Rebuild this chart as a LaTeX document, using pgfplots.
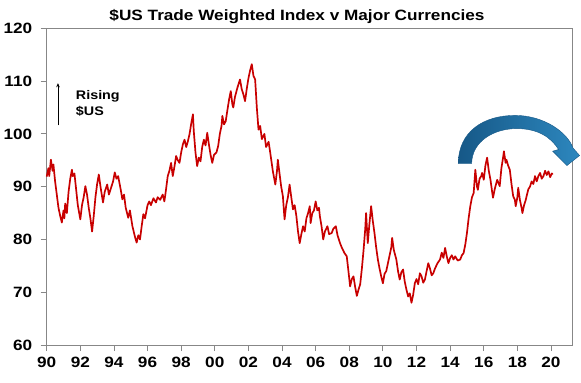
\documentclass[border=0pt]{standalone}
\usepackage{pgfplots}
\pgfplotsset{compat=1.18}
\usepackage{fontspec}
\setmainfont{Liberation Sans}[FakeStretch=1.15, BoldFont={Liberation Sans Bold}, BoldFeatures={FakeStretch=1.15}]
\usetikzlibrary{arrows.meta}
\definecolor{linered}{RGB}{200,0,0}
\definecolor{axgray}{RGB}{135,135,135}
\definecolor{arrdark}{RGB}{22,88,135}
\definecolor{arrlight}{RGB}{45,135,190}
\begin{document}
\begin{tikzpicture}
\useasboundingbox (0,0) rectangle (581bp,383bp);
\begin{axis}[
  at={(46.7bp,38bp)}, anchor=south west,
  scale only axis, width=525.3bp, height=316.7bp,
  xmin=1990, xmax=2021.25, ymin=60, ymax=120,
  xtick={1990,1992,...,2020},
  xticklabels={90,92,94,96,98,00,02,04,06,08,10,12,14,16,18,20},
  ytick={60,70,...,120},
  tick align=outside, major tick length=6bp,
  xtick pos=bottom, ytick pos=left,
  axis line style={axgray, line width=0.8pt},
  tick style={axgray, line width=0.8pt},
  /pgf/number format/assume math mode=true,
  ticklabel style={font=\fontsize{15}{15}\selectfont\bfseries},
  xticklabel style={yshift=-3bp},
  yticklabel style={xshift=-5bp},
  clip=false,
]
\addplot[linered, line width=1.7pt, line join=round] coordinates {
(1990.0,91.9)(1990.1,93.5)(1990.15,92.0)(1990.25,95.1)(1990.35,93.0)(1990.4,94.2)
(1990.5,91.0)(1990.6,88.5)(1990.7,86.0)(1990.8,84.5)(1990.9,83.2)(1991.0,85.5)
(1991.05,84.0)(1991.1,86.8)(1991.2,85.0)(1991.3,89.0)(1991.4,91.5)(1991.5,93.2)
(1991.55,92.0)(1991.65,92.5)(1991.75,89.5)(1991.85,86.5)(1992.0,83.8)(1992.1,86.5)
(1992.2,88.0)(1992.3,90.1)(1992.4,88.5)(1992.5,86.0)(1992.6,84.0)(1992.7,81.5)
(1992.8,84.5)(1992.9,88.0)(1993.0,90.5)(1993.1,92.3)(1993.2,90.0)(1993.35,87.0)
(1993.45,89.0)(1993.6,90.4)(1993.7,88.5)(1993.8,89.5)(1993.95,91.0)(1994.05,92.7)
(1994.15,91.5)(1994.25,92.0)(1994.4,89.5)(1994.5,87.6)(1994.6,88.5)(1994.7,86.0)
(1994.85,84.1)(1994.95,85.5)(1995.1,82.5)(1995.25,80.5)(1995.35,79.4)(1995.45,80.8)
(1995.55,80.0)(1995.65,82.5)(1995.75,84.8)(1995.85,84.0)(1996.0,86.5)(1996.1,87.2)
(1996.2,86.5)(1996.35,87.8)(1996.5,87.0)(1996.6,88.0)(1996.75,87.5)(1996.9,88.5)
(1997.0,87.2)(1997.1,89.5)(1997.2,92.0)(1997.3,93.0)(1997.4,94.5)(1997.5,92.0)
(1997.6,93.8)(1997.7,95.8)(1997.8,95.0)(1997.9,94.5)(1998.0,96.5)(1998.1,98.0)
(1998.2,98.9)(1998.3,97.5)(1998.4,98.6)(1998.5,100.0)(1998.6,102.0)(1998.7,103.7)
(1998.75,100.5)(1998.85,96.5)(1998.95,93.9)(1999.05,95.5)(1999.15,94.8)(1999.25,97.5)
(1999.35,98.9)(1999.45,97.8)(1999.55,100.2)(1999.65,98.0)(1999.75,96.0)(1999.85,94.5)
(1999.95,96.0)(2000.1,96.5)(2000.2,97.7)(2000.3,100.0)(2000.4,101.5)(2000.45,103.4)
(2000.55,101.8)(2000.65,102.4)(2000.75,104.5)(2000.85,106.5)(2000.95,108.1)(2001.05,105.5)
(2001.1,105.0)(2001.2,107.0)(2001.35,108.8)(2001.5,110.3)(2001.6,108.5)(2001.7,107.5)
(2001.8,106.2)(2001.9,108.5)(2002.0,110.5)(2002.1,112.0)(2002.2,113.2)(2002.3,111.0)
(2002.4,110.3)(2002.5,105.0)(2002.6,100.8)(2002.7,101.5)(2002.8,99.0)(2002.95,100.0)
(2003.05,97.5)(2003.2,98.5)(2003.3,96.4)(2003.45,93.0)(2003.6,90.4)(2003.7,93.0)
(2003.75,95.1)(2003.85,92.5)(2003.95,90.0)(2004.05,88.2)(2004.15,83.8)(2004.25,86.5)
(2004.35,88.0)(2004.45,90.4)(2004.55,88.0)(2004.65,85.7)(2004.75,86.5)(2004.85,84.5)
(2004.95,81.5)(2005.05,79.3)(2005.15,81.0)(2005.25,82.5)(2005.35,81.5)(2005.45,84.0)
(2005.55,85.0)(2005.65,86.3)(2005.7,83.1)(2005.8,85.0)(2005.9,85.5)(2006.0,87.2)
(2006.1,85.5)(2006.2,86.0)(2006.25,84.4)(2006.35,82.5)(2006.45,80.0)(2006.55,81.5)
(2006.7,82.5)(2006.8,81.0)(2006.95,81.2)(2007.05,82.0)(2007.2,82.5)(2007.3,80.8)
(2007.45,79.3)(2007.55,78.5)(2007.7,77.5)(2007.85,76.8)(2007.95,74.0)(2008.05,71.1)
(2008.15,72.5)(2008.25,73.0)(2008.35,71.0)(2008.45,69.3)(2008.55,70.5)(2008.65,71.5)
(2008.75,74.5)(2008.85,78.0)(2008.95,82.0)(2009.0,85.0)(2009.1,79.3)(2009.2,83.0)
(2009.3,86.3)(2009.4,83.5)(2009.5,81.2)(2009.6,78.5)(2009.7,76.2)(2009.8,74.5)
(2009.9,73.0)(2010.0,71.7)(2010.1,73.5)(2010.2,74.0)(2010.3,75.5)(2010.4,77.0)
(2010.5,78.5)(2010.55,80.3)(2010.65,78.0)(2010.8,76.2)(2010.9,74.0)(2011.0,72.4)
(2011.1,73.8)(2011.2,74.3)(2011.3,72.0)(2011.4,70.5)(2011.5,69.2)(2011.6,69.8)
(2011.7,68.0)(2011.8,69.5)(2011.9,71.7)(2012.0,72.5)(2012.1,71.5)(2012.2,73.6)
(2012.3,73.0)(2012.4,71.8)(2012.5,72.4)(2012.6,74.0)(2012.7,75.5)(2012.8,74.5)
(2012.9,73.2)(2013.0,73.6)(2013.1,74.5)(2013.25,75.5)(2013.4,76.2)(2013.5,77.5)
(2013.6,76.5)(2013.7,78.4)(2013.8,76.8)(2013.9,75.5)(2014.0,76.5)(2014.1,77.0)
(2014.2,76.2)(2014.3,76.8)(2014.45,76.0)(2014.6,76.2)(2014.7,77.0)(2014.8,77.4)
(2014.9,79.0)(2015.0,81.2)(2015.1,84.0)(2015.2,86.3)(2015.3,88.0)(2015.4,88.8)
(2015.45,91.0)(2015.5,93.2)(2015.6,90.0)(2015.65,89.4)(2015.75,91.5)(2015.85,92.0)
(2015.9,92.6)(2016.0,91.3)(2016.1,94.0)(2016.2,95.5)(2016.3,93.0)(2016.4,91.3)
(2016.5,89.0)(2016.55,87.9)(2016.65,89.5)(2016.8,91.3)(2016.9,90.5)(2016.95,90.1)
(2017.05,93.5)(2017.15,95.5)(2017.2,96.7)(2017.3,94.5)(2017.35,95.1)(2017.45,94.0)
(2017.55,93.2)(2017.65,90.5)(2017.75,88.2)(2017.85,87.5)(2017.9,86.3)(2018.0,88.0)
(2018.05,89.8)(2018.15,87.5)(2018.25,86.0)(2018.3,85.0)(2018.4,86.5)(2018.5,87.5)
(2018.55,88.2)(2018.65,89.5)(2018.75,90.0)(2018.85,91.0)(2018.95,90.5)(2019.05,92.0)
(2019.15,91.0)(2019.25,92.0)(2019.35,92.6)(2019.45,91.5)(2019.55,92.0)(2019.65,93.0)
(2019.75,92.2)(2019.85,92.9)(2019.95,91.8)(2020.05,92.5)(2020.1,92.3)
};
% rising arrow and text
\draw[black, line width=0.9pt, -{Stealth[length=4bp,width=3.5bp]}] (axis cs:1990.67,101.6) -- (axis cs:1990.67,109.6);
\node[anchor=west, font=\fontsize{12.5}{12.5}\selectfont\bfseries, inner sep=0pt] at (axis cs:1991.73,107.1) {Rising};
\node[anchor=west, font=\fontsize{12.5}{12.5}\selectfont\bfseries, inner sep=0pt] at (axis cs:1991.73,104.2) {\$US};
% curved blue arrow
\path[draw=arrdark, line width=0.4pt, left color=arrdark, right color=arrlight]
 (axis cs:2014.48,94.38) .. controls (axis cs:2014.5,100.5) and (axis cs:2016.0,103.5) .. (axis cs:2017.86,103.5)
 .. controls (axis cs:2019.6,103.5) and (axis cs:2021.0,100.2) .. (axis cs:2021.3,97.36)
 -- (axis cs:2021.7,95.9) -- (axis cs:2020.95,94.0) -- (axis cs:2020.1,96.72) -- (axis cs:2020.45,97.04)
 .. controls (axis cs:2020.0,99.4) and (axis cs:2019.2,101.0) .. (axis cs:2017.96,101.0)
 .. controls (axis cs:2016.6,101.0) and (axis cs:2015.3,98.6) .. (axis cs:2015.28,94.38) -- cycle;
\end{axis}
\node[font=\fontsize{15}{15}\selectfont\bfseries] at (297bp,366bp) {\$US Trade Weighted Index v Major Currencies};
\end{tikzpicture}
\end{document}
